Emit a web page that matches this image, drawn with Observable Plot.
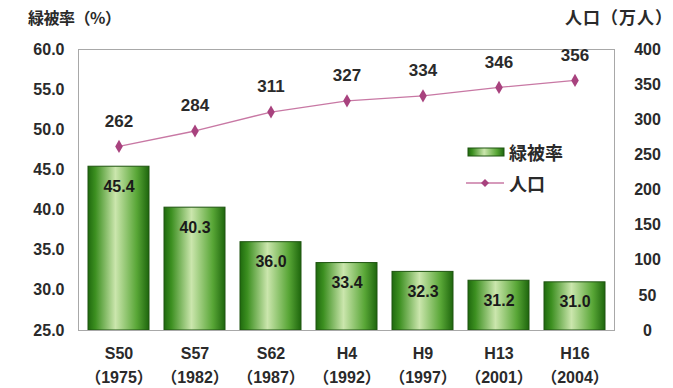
<!DOCTYPE html>
<html><head><meta charset="utf-8">
<script src="https://cdn.jsdelivr.net/npm/d3@7"></script>
<script src="https://cdn.jsdelivr.net/npm/@observablehq/plot@0.6"></script>
<style>
body{margin:0;background:#fff;}
#wrap{position:relative;width:673px;height:388px;font-family:"Liberation Sans","Noto Sans CJK JP",sans-serif;color:#222;}
.ttl{position:absolute;font-size:17px;font-weight:bold;white-space:nowrap;font-family:"Noto Sans CJK JP","Liberation Sans",sans-serif;line-height:22px;color:#2a2a2a;}
.lg{position:absolute;font-size:18px;font-weight:bold;white-space:nowrap;font-family:"Noto Sans CJK JP",sans-serif;line-height:20px;color:#2a2a2a;}
</style></head><body><div id="wrap"></div>
<script>
const eras = ["S50","S57","S62","H4","H9","H13","H16"];
const years = ["1975","1982","1987","1992","1997","2001","2004"];
const greenRate = [45.4,40.3,36.0,33.4,32.3,31.2,31.0];
const population = [262,284,311,327,334,346,356];
const leftTicks = [25,30,35,40,45,50,55,60];
const rightTicks = [0,50,100,150,200,250,300,350,400];
const leftTitle = "緑被率（%）";
const rightTitle = "人口（万人）";
const seriesNames = ["緑被率","人口"];
const leftMin = 25, leftMax = 60, rightMax = 400;
const toLeft = p => leftMin + p * (leftMax - leftMin) / rightMax;
const fromLeft = v => Math.round((v - leftMin) * rightMax / (leftMax - leftMin));
const data = eras.map((e,i)=>({era:e, year:years[i], rate:greenRate[i], pop:population[i]}));

const font = '"Liberation Sans","Noto Sans CJK JP",sans-serif';
const chart = Plot.plot({
  width: 673, height: 388,
  marginLeft: 78, marginRight: 59, marginTop: 49, marginBottom: 58,
  style: {fontFamily: font, color: "#222", background: "#fff"},
  x: {domain: eras, paddingInner: 0.2, paddingOuter: 0.1, label: null},
  y: {domain: [leftMin, leftMax], label: null},
  marks: [
    Plot.barY(data, {x: "era", y1: d => leftMin, y2: "rate", fill: "url(#barGrad)", stroke: "#1f5410", strokeWidth: 1}),
    Plot.frame({stroke: "#a8a8a8"}),
    Plot.axisY(leftTicks, {tickSize: 0, tickPadding: 14, tickFormat: d => d.toFixed(1), fontSize: 16, fontWeight: "bold", fill: "#2a2a2a"}),
    Plot.axisY(rightTicks.map(toLeft), {anchor: "right", tickSize: 0, tickPadding: 33, textAnchor: "middle", tickFormat: v => String(fromLeft(v)), fontSize: 16, fontWeight: "bold", fill: "#2a2a2a"}),
    Plot.axisX({tickSize: 0, tickPadding: 11, fontSize: 16, fontWeight: "bold", lineHeight: 1.5, fill: "#2a2a2a",
      tickFormat: d => d + "\n（" + years[eras.indexOf(d)] + "）"}),
    Plot.line(data, {x: "era", y: d => toLeft(d.pop), stroke: "#c878a4", strokeWidth: 1.3}),
    Plot.dot(data, {x: "era", y: d => toLeft(d.pop), symbol: "diamond", fill: "#a8427e", r: 4}),
    Plot.text(data, {x: "era", y: d => toLeft(d.pop), text: d => String(d.pop), dy: -25, fontSize: 17, fontWeight: "bold", fill: "#2a2a2a"}),
    Plot.text(data, {x: "era", y: "rate", text: d => d.rate.toFixed(1), dy: 20, fontSize: 16, fontWeight: "bold", fill: "#1a1a1a"})
  ]
});
// gradient defs
const ns = "http://www.w3.org/2000/svg";
const defs = document.createElementNS(ns, "defs");
defs.innerHTML = `<linearGradient id="barGrad" x1="0" x2="1" y1="0" y2="0">
  <stop offset="0" stop-color="#1f6a0e"/>
  <stop offset="0.12" stop-color="#3c8f20"/>
  <stop offset="0.45" stop-color="#cbe6ad"/>
  <stop offset="0.8" stop-color="#58a636"/>
  <stop offset="1" stop-color="#1e660d"/>
</linearGradient>`;
chart.insertBefore(defs, chart.firstChild);
const wrap = document.getElementById("wrap");
wrap.appendChild(chart);

function addDiv(cls, text, left, top, extra){
  const d = document.createElement("div"); d.className = cls; d.textContent = text;
  d.style.left = left + "px"; d.style.top = top + "px";
  if (extra) Object.assign(d.style, extra);
  wrap.appendChild(d); return d;
}
addDiv("ttl", leftTitle, 28, 6, {letterSpacing: "-0.5px", fontSize: "16px"});
addDiv("ttl", rightTitle, 565, 6, {letterSpacing: "1px"});
// legend
const sw = document.createElementNS(ns, "svg");
sw.setAttribute("width", 50); sw.setAttribute("height", 50);
sw.style.position = "absolute"; sw.style.left = "462px"; sw.style.top = "140px";
sw.innerHTML = `<rect x="6" y="8" width="36" height="8" fill="url(#barGrad)" stroke="#1f5410"/>
<line x1="4" x2="42" y1="43" y2="43" stroke="#c878a4" stroke-width="1.3"/>
<path d="M23 39 L27 43 L23 47 L19 43 Z" fill="#a8427e"/>`;
wrap.appendChild(sw);
addDiv("lg", seriesNames[0], 509, 142);
addDiv("lg", seriesNames[1], 509, 173);
</script></body></html>
